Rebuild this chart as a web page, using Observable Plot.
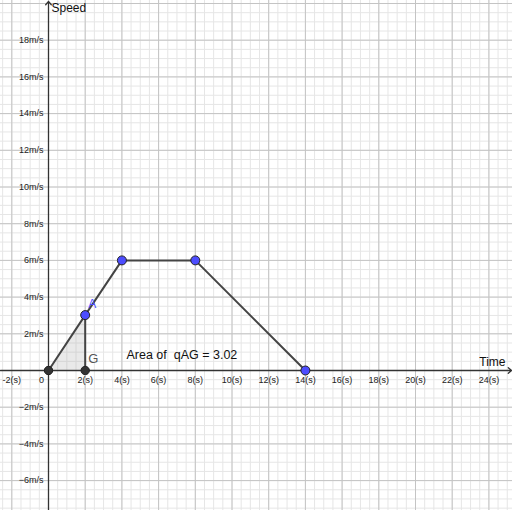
<!DOCTYPE html>
<html>
<head>
<meta charset="utf-8">
<script src="https://cdn.jsdelivr.net/npm/d3@7"></script>
<script src="https://cdn.jsdelivr.net/npm/@observablehq/plot@0.6"></script>
<style>
  body { margin: 0; background: #fff; }
  #chart svg { display: block; }
</style>
</head>
<body>
<div id="chart"></div>
<script>
// Speed–time profile: accelerate, cruise, decelerate
const times = [0, 2, 4, 8, 14];
const speeds = [0, 3.02, 6, 6, 0];

// Named points
const blueX = [2, 4, 8, 14];
const blueY = [3.02, 6, 6, 0];
const darkX = [0, 2];
const darkY = [0, 0];

// Shaded region under the line up to G
const areaTimes = [0, 2];
const areaSpeeds = [0, 3.02];
const areaValue = 3.02;

// Tick labels
const xTicks = [-2, 2, 4, 6, 8, 10, 12, 14, 16, 18, 20, 22, 24];
const xTickLabels = ["-2(s)", "2(s)", "4(s)", "6(s)", "8(s)", "10(s)", "12(s)", "14(s)", "16(s)", "18(s)", "20(s)", "22(s)", "24(s)"];
const yTicks = [-6, -4, -2, 2, 4, 6, 8, 10, 12, 14, 16, 18];
const yTickLabels = ["−6m/s", "−4m/s", "−2m/s", "2m/s", "4m/s", "6m/s", "8m/s", "10m/s", "12m/s", "14m/s", "16m/s", "18m/s"];

// Viewport (pixels per unit is equal on both axes)
const W = 512, H = 510, k = 18.35, ox = 48, oy = 370;
const xDomain = [-ox / k, (W - ox) / k];
const yDomain = [-(H - oy) / k, oy / k];

const xMinor = d3.range(-2.5, 25.5, 0.5);
const yMinor = d3.range(-7.5, 20.5, 0.5);
const xMajor = d3.range(-2, 26, 2);
const yMajor = d3.range(-6, 22, 2);

const font = "Liberation Sans, Arial, sans-serif";
const blue = "#4d4dff";
const dark = "#333333";

const chart = Plot.plot({
  width: W,
  height: H,
  margin: 0,
  style: { fontFamily: font, background: "#fff" },
  x: { domain: xDomain, axis: null },
  y: { domain: yDomain, axis: null },
  marks: [
    // grid
    Plot.ruleX(xMinor, { stroke: "#e6e6e6", strokeWidth: 1 }),
    Plot.ruleY(yMinor, { stroke: "#e6e6e6", strokeWidth: 1 }),
    Plot.ruleX(xMajor, { stroke: "#c4c4c4", strokeWidth: 1 }),
    Plot.ruleY(yMajor, { stroke: "#c4c4c4", strokeWidth: 1 }),
    // axes with arrowheads
    Plot.arrow([0], { x1: xDomain[0], x2: xDomain[1] - 0.05, y1: 0, y2: 0, stroke: dark, strokeWidth: 1.3, headLength: 5, headAngle: 80, insetStart: 0, insetEnd: 0 }),
    Plot.arrow([0], { x1: 0, x2: 0, y1: yDomain[0], y2: yDomain[1] - 0.05, stroke: dark, strokeWidth: 1.3, headLength: 5, headAngle: 80, insetStart: 0, insetEnd: 0 }),
    // tick labels
    Plot.text(xTicks, { x: d => d, y: 0, text: (d, i) => xTickLabels[i], dy: 10, fontSize: 9, fill: "#222" }),
    Plot.text([0], { x: 0, y: 0, text: ["0"], dx: -7, dy: 10, fontSize: 9, fill: "#222" }),
    Plot.text(yTicks, { x: 0, y: d => d, text: (d, i) => yTickLabels[i], dx: -5, textAnchor: "end", fontSize: 9, fill: "#222" }),
    // axis titles
    Plot.text(["Speed"], { x: 0, y: yDomain[1], dx: 3, dy: 3, textAnchor: "start", lineAnchor: "top", fontSize: 12, fill: "#111" }),
    Plot.text(["Time"], { x: xDomain[1], y: 0, dx: -7, dy: -8, textAnchor: "end", fontSize: 12, fill: "#111" }),
    // shaded triangle and segment AG
    Plot.areaY(areaTimes, { x: d => d, y: (d, i) => areaSpeeds[i], fill: "#9a9a9a", fillOpacity: 0.22 }),
    Plot.line([0, 1], { x: [2, 2], y: [0, 3.02], stroke: "#444", strokeWidth: 2 }),
    // speed profile
    Plot.line(times, { x: d => d, y: (d, i) => speeds[i], stroke: "#444", strokeWidth: 2 }),
    // points
    Plot.dot(darkX, { x: d => d, y: (d, i) => darkY[i], r: 4.2, fill: "#333", stroke: "#222", strokeWidth: 1 }),
    Plot.dot(blueX, { x: d => d, y: (d, i) => blueY[i], r: 4.5, fill: blue, stroke: "#222", strokeWidth: 1 }),
    // point labels
    Plot.text(["A"], { x: 2, y: 3.02, dx: 7, dy: -11, fontSize: 12, fill: blue }),
    Plot.text(["G"], { x: 2, y: 0, dx: 8, dy: -12, fontSize: 13, fill: "#555" }),
    // area readout
    Plot.text([areaValue], { x: 4.25, y: 0.82, text: d => `Area of  qAG = ${d.toFixed(2)}`, textAnchor: "start", fontSize: 12.5, fill: "#111", ariaLabel: "area-readout" })
  ]
});

document.getElementById("chart").append(chart);

// White box behind the area readout
const readout = chart.querySelector('g[aria-label="area-readout"]');
if (readout) {
  const bb = readout.getBBox();
  const rect = document.createElementNS("http://www.w3.org/2000/svg", "rect");
  rect.setAttribute("x", bb.x - 4);
  rect.setAttribute("y", bb.y - 2);
  rect.setAttribute("width", bb.width + 8);
  rect.setAttribute("height", bb.height + 4);
  rect.setAttribute("fill", "#fff");
  readout.parentNode.insertBefore(rect, readout);
}
</script>
</body>
</html>
